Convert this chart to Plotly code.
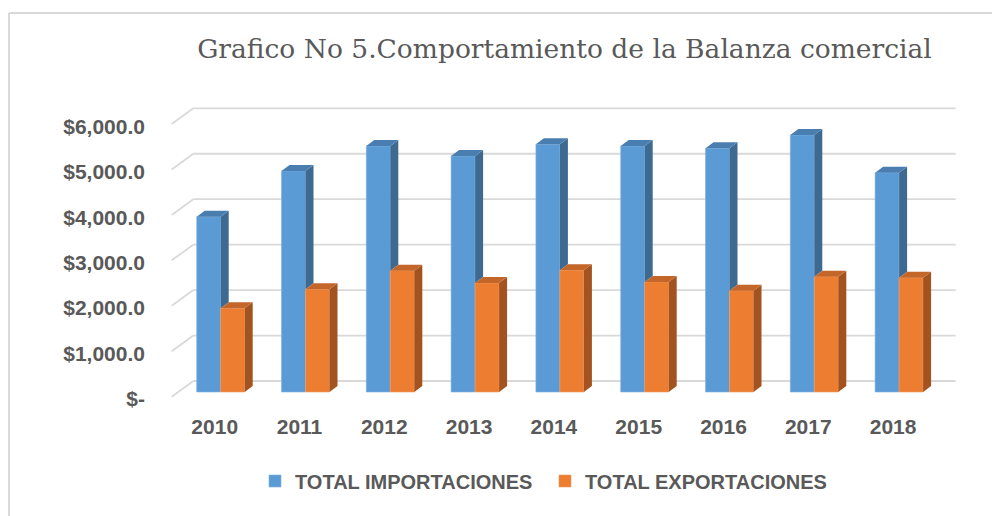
import plotly.graph_objects as go

# ---------------- data ----------------
years = ["2010", "2011", "2012", "2013", "2014", "2015", "2016", "2017", "2018"]
importaciones = [3857, 4862, 5413, 5193, 5450, 5413, 5362, 5655, 4825]
exportaciones = [1842, 2260, 2670, 2398, 2678, 2420, 2229, 2537, 2515]
y_tick_vals = [0, 1000, 2000, 3000, 4000, 5000, 6000]
y_tick_text = ["$-", "$1,000.0", "$2,000.0", "$3,000.0", "$4,000.0", "$5,000.0", "$6,000.0"]
series_names = ["TOTAL IMPORTACIONES", "TOTAL EXPORTACIONES"]
title_text = "Grafico No 5.Comportamiento de la Balanza comercial"

# ---------------- geometry / style ----------------
OFF = 8                       # page body margin (px)
W, H = 1000 - OFF, 516 - OFF  # figure size so it fills the window


def fx(px):  # window px -> figure px (x)
    return px - OFF


def fy(py):  # window px -> figure px (y)
    return py - OFF


ML, MR, MT, MB = fx(160), 1000 - 970, fy(100), 516 - 400
X0_PX = fx(220.7)      # front-face centre of first category (figure px)
X_STEP = 84.8          # px per category
Y0_PX = fy(392.0)      # front-face baseline (figure px)
Y_SCALE = 45.45 / 1000 # px per unit

BAR_W = 24 / X_STEP            # bar width in category units
DEPTH_PX = (8, 6)              # bar depth (right, up) in px
WALL_PX = (15, 11)             # back wall offset from bar front plane
WALL_LEFT_PX = fx(193.3)
WALL_RIGHT_PX = fx(955.7)
FLOOR_PX = (21.6, 15.7)        # floor depth (back wall -> front edge)

BLUE, BLUE_SIDE, BLUE_TOP = "#5B9BD5", "#3E6A92", "#4A7EB0"
ORANGE, ORANGE_SIDE, ORANGE_TOP = "#ED7D31", "#A3531F", "#C4662A"
TEXT = "#595959"
GRID = "#D9D9D9"


def dxu(px):
    return px / X_STEP


def dyu(px):
    return px / Y_SCALE


def px_to_x(px):
    return (px - X0_PX) / X_STEP


x_range = [px_to_x(ML), px_to_x(W - MR)]
y_range = [(Y0_PX - (H - MB)) / Y_SCALE, (Y0_PX - MT) / Y_SCALE]

n = len(years)
pos = list(range(n))
ddx, ddy = dxu(DEPTH_PX[0]), dyu(DEPTH_PX[1])

fig = go.Figure()

# front faces (real bars)
fig.add_trace(go.Bar(x=pos, y=importaciones, width=BAR_W, offset=-BAR_W,
                     marker=dict(color=BLUE, line=dict(color="#7FB2E0", width=0.6)),
                     name=series_names[0], hoverinfo="skip"))
fig.add_trace(go.Bar(x=pos, y=exportaciones, width=BAR_W, offset=0,
                     marker=dict(color=ORANGE, line=dict(color="#F29A5E", width=0.6)),
                     name=series_names[1], hoverinfo="skip"))


def poly_trace(xs, ys, color):
    return go.Scatter(x=xs, y=ys, fill="toself", fillcolor=color, mode="lines",
                      line=dict(width=0, color=color), showlegend=False,
                      hoverinfo="skip")


# import: top and visible part of side
tx, ty, sx, sy = [], [], [], []
for i, v, e in zip(pos, importaciones, exportaciones):
    xl, xr = i - BAR_W, i
    tx += [xl, xl + ddx, xr + ddx, xr, xl, None]
    ty += [v, v + ddy, v + ddy, v, v, None]
    sx += [xr, xr + ddx, xr + ddx, xr, xr, None]
    sy += [e, e + ddy, v + ddy, v, e, None]
fig.add_trace(poly_trace(sx, sy, BLUE_SIDE))
fig.add_trace(poly_trace(tx, ty, BLUE_TOP))

# export: top and side
tx, ty, sx, sy = [], [], [], []
for i, v in zip(pos, exportaciones):
    xl, xr = i, i + BAR_W
    tx += [xl, xl + ddx, xr + ddx, xr, xl, None]
    ty += [v, v + ddy, v + ddy, v, v, None]
    sx += [xr, xr + ddx, xr + ddx, xr, xr, None]
    sy += [0, ddy, v + ddy, v, 0, None]
fig.add_trace(poly_trace(sx, sy, ORANGE_SIDE))
fig.add_trace(poly_trace(tx, ty, ORANGE_TOP))

# back-wall gridlines with floor slant
shapes = []
x_wall_left = px_to_x(WALL_LEFT_PX)
x_wall_right = px_to_x(WALL_RIGHT_PX)
x_floor_left = px_to_x(WALL_LEFT_PX - FLOOR_PX[0])
for v in y_tick_vals:
    vw = v + dyu(WALL_PX[1])
    shapes.append(dict(type="line", xref="x", yref="y", x0=x_wall_left, x1=x_wall_right,
                       y0=vw, y1=vw, line=dict(color=GRID, width=1.8), layer="below"))
    shapes.append(dict(type="line", xref="x", yref="y", x0=x_floor_left, x1=x_wall_left,
                       y0=vw - dyu(FLOOR_PX[1]), y1=vw, line=dict(color=GRID, width=1.8),
                       layer="below"))


# chart border (top and left edges), positions given in window px
def ppx(px):
    return (fx(px) - ML) / (W - ML - MR)


def ppy(py):
    return ((H - MB) - fy(py)) / (H - MT - MB)


shapes.append(dict(type="line", xref="paper", yref="paper", x0=ppx(9), x1=ppx(1000),
                   y0=ppy(13), y1=ppy(13), line=dict(color="#D9D9D9", width=2)))
shapes.append(dict(type="line", xref="paper", yref="paper", x0=ppx(9), x1=ppx(9),
                   y0=ppy(13), y1=ppy(516), line=dict(color="#D9D9D9", width=2)))

label_font = dict(family="Liberation Sans", size=21, color=TEXT, weight="bold")

fig.update_layout(
    width=W, height=H,
    margin=dict(l=ML, r=MR, t=MT, b=MB, autoexpand=False),
    paper_bgcolor="white", plot_bgcolor="white",
    barmode="overlay",
    shapes=shapes,
    title=dict(text=title_text, x=fx(564.5) / W, y=1 - fy(49) / H, xanchor="center",
               yanchor="middle", xref="container", yref="container",
               font=dict(family="DejaVu Serif", size=26.5, color=TEXT)),
    xaxis=dict(range=x_range, tickvals=pos, ticktext=years, showgrid=False,
               zeroline=False, showline=False, ticks="", tickfont=label_font,
               ticklabelshift=-6, ticklabelstandoff=12),
    yaxis=dict(range=y_range, tickvals=y_tick_vals, ticktext=y_tick_text,
               showgrid=False, zeroline=False, showline=False, ticks="",
               tickfont=label_font, ticklabelshift=7, ticklabelstandoff=14),
    legend=dict(orientation="h", x=ppx(545), y=ppy(481), xanchor="center",
                yanchor="middle", font=dict(family="Liberation Sans", size=20,
                                            color=TEXT, weight="bold"),
                entrywidth=245, traceorder="normal", bgcolor="rgba(0,0,0,0)"),
    showlegend=True,
)

fig.write_html("out.html")
